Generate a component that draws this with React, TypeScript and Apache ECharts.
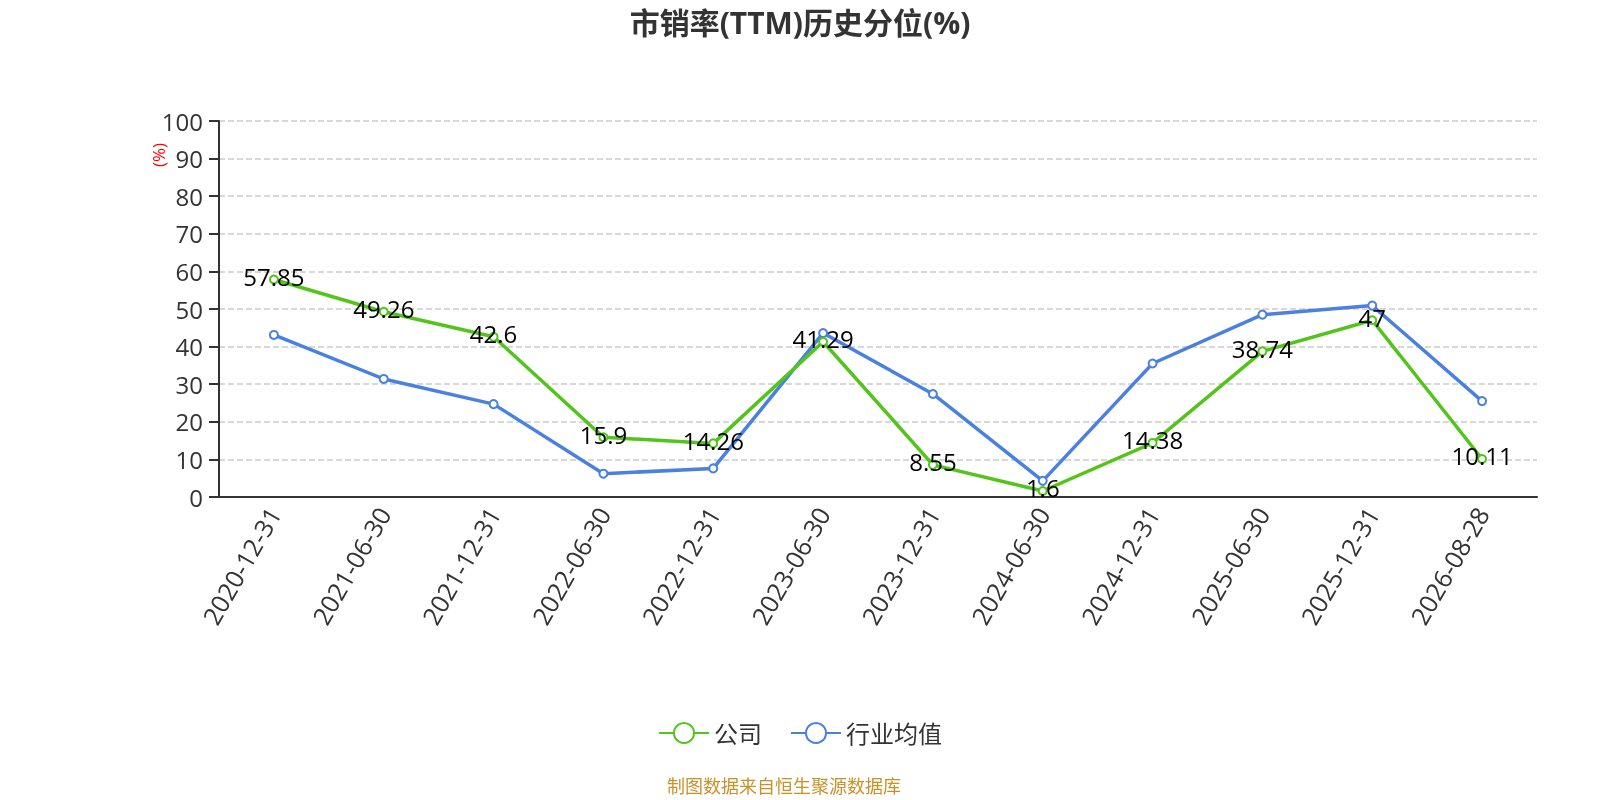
import React, { useEffect, useRef } from "react";
import * as echarts from "echarts";

const categories = [
  "2020-12-31", "2021-06-30", "2021-12-31", "2022-06-30", "2022-12-31", "2023-06-30",
  "2023-12-31", "2024-06-30", "2024-12-31", "2025-06-30", "2025-12-31", "2026-08-28",
];
const companyValues = [57.85, 49.26, 42.6, 15.9, 14.26, 41.29, 8.55, 1.6, 14.38, 38.74, 47, 10.11];
const industryValues = [43.1, 31.4, 24.7, 6.2, 7.6, 43.6, 27.4, 4.3, 35.5, 48.5, 50.9, 25.5];
const seriesNames = ["公司", "行业均值"];
const titleText = "市销率(TTM)历史分位(%)";
const footerText = "制图数据来自恒生聚源数据库";

export default function App() {
  const ref = useRef<HTMLDivElement>(null);
  useEffect(() => {
    if (!ref.current) return;
    const chart = echarts.init(ref.current, undefined, { renderer: "svg" });
    const font = "'Open Sans', 'Noto Sans CJK SC', sans-serif";
    chart.setOption({
      animation: false,
      textStyle: { fontFamily: font },
      title: {
        text: titleText,
        left: "center",
        top: 2,
        textStyle: { fontSize: 30, fontWeight: "bold", color: "#333", fontFamily: font },
      },
      legend: {
        data: seriesNames,
        bottom: 50,
        left: "center",
        itemWidth: 50,
        itemHeight: 25,
        itemGap: 28,
        textStyle: { fontSize: 24, color: "#333", fontFamily: font },
      },
      grid: { left: 219, right: 63, top: 121, bottom: 303, containLabel: false },
      xAxis: {
        type: "category",
        data: categories,
        boundaryGap: true,
        axisLine: { lineStyle: { color: "#333", width: 2 } },
        axisTick: { alignWithLabel: false, length: 9, lineStyle: { color: "#333", width: 2 } },
        axisLabel: { rotate: 60, fontSize: 25, color: "#333", margin: 12, fontFamily: font },
      },
      yAxis: {
        type: "value",
        min: 0,
        max: 100,
        interval: 10,
        axisLine: { show: true, lineStyle: { color: "#333", width: 2 } },
        axisTick: { show: true, length: 10, lineStyle: { color: "#333", width: 2 } },
        axisLabel: { fontSize: 24, color: "#333", margin: 16, fontFamily: font },
        splitLine: { lineStyle: { type: "dashed", color: "#ccc", width: 1.5 } },
      },
      graphic: [
        {
          type: "text",
          x: 158,
          y: 155,
          rotation: Math.PI / 2,
          style: { text: "(%)", fill: "#ff0000", fontSize: 17, align: "center", verticalAlign: "middle", fontFamily: font },
        },
        {
          type: "text",
          x: 784,
          y: 786,
          style: { text: footerText, fill: "#c8912a", fontSize: 18, align: "center", verticalAlign: "middle", fontFamily: font },
        },
      ],
      series: [
        {
          name: seriesNames[0],
          type: "line",
          data: companyValues,
          symbol: "emptyCircle",
          symbolSize: 8,
          lineStyle: { width: 3.5, color: "#52c41a" },
          itemStyle: { color: "#52c41a", borderWidth: 2 },
          label: { show: true, position: "inside", fontSize: 24, color: "#000", offset: [0, -3], fontFamily: font },
          z: 3,
        },
        {
          name: seriesNames[1],
          type: "line",
          data: industryValues,
          symbol: "emptyCircle",
          symbolSize: 8,
          lineStyle: { width: 3.5, color: "#4a80e0" },
          itemStyle: { color: "#4a80e0", borderWidth: 2 },
          z: 2,
        },
      ],
    });
    return () => chart.dispose();
  }, []);
  return <div ref={ref} style={{ position: "fixed", left: 0, top: 0, width: 1600, height: 800 }} />;
}
